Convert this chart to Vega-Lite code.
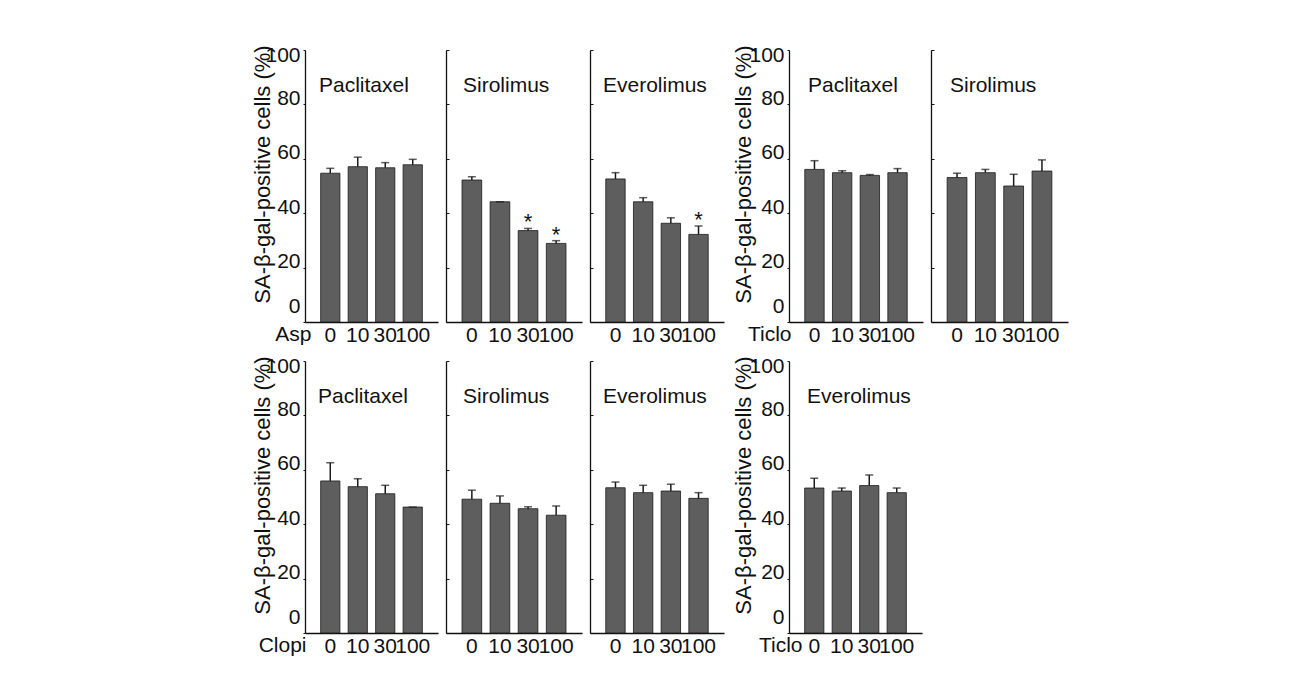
{
  "$schema": "https://vega.github.io/schema/vega-lite/v6.json",
  "padding": {"left": 250, "top": 44, "right": 5, "bottom": 5},
  "background": "white",
  "datasets": {
    "d": [
      {"panel": "Asp-Paclitaxel", "dose": "0", "value": 54.7, "err": 56.5, "sig": ""},
      {"panel": "Asp-Paclitaxel", "dose": "10", "value": 57.1, "err": 60.6, "sig": ""},
      {"panel": "Asp-Paclitaxel", "dose": "30", "value": 56.7, "err": 58.6, "sig": ""},
      {"panel": "Asp-Paclitaxel", "dose": "100", "value": 57.8, "err": 59.8, "sig": ""},
      {"panel": "Asp-Sirolimus", "dose": "0", "value": 52.2, "err": 53.4, "sig": ""},
      {"panel": "Asp-Sirolimus", "dose": "10", "value": 44.2, "err": 44.2, "sig": ""},
      {"panel": "Asp-Sirolimus", "dose": "30", "value": 33.6, "err": 34.4, "sig": "*"},
      {"panel": "Asp-Sirolimus", "dose": "100", "value": 28.9, "err": 29.9, "sig": "*"},
      {"panel": "Asp-Everolimus", "dose": "0", "value": 52.6, "err": 54.9, "sig": ""},
      {"panel": "Asp-Everolimus", "dose": "10", "value": 44.2, "err": 45.7, "sig": ""},
      {"panel": "Asp-Everolimus", "dose": "30", "value": 36.3, "err": 38.3, "sig": ""},
      {"panel": "Asp-Everolimus", "dose": "100", "value": 32.2, "err": 35.3, "sig": "*"},
      {"panel": "Ticlo-Paclitaxel", "dose": "0", "value": 56.1, "err": 59.3, "sig": ""},
      {"panel": "Ticlo-Paclitaxel", "dose": "10", "value": 54.9, "err": 55.6, "sig": ""},
      {"panel": "Ticlo-Paclitaxel", "dose": "30", "value": 53.9, "err": 54.2, "sig": ""},
      {"panel": "Ticlo-Paclitaxel", "dose": "100", "value": 54.9, "err": 56.4, "sig": ""},
      {"panel": "Ticlo-Sirolimus", "dose": "0", "value": 53.1, "err": 54.7, "sig": ""},
      {"panel": "Ticlo-Sirolimus", "dose": "10", "value": 54.9, "err": 56.1, "sig": ""},
      {"panel": "Ticlo-Sirolimus", "dose": "30", "value": 50.0, "err": 54.3, "sig": ""},
      {"panel": "Ticlo-Sirolimus", "dose": "100", "value": 55.5, "err": 59.6, "sig": ""},
      {"panel": "Clopi-Paclitaxel", "dose": "0", "value": 55.9, "err": 62.6, "sig": ""},
      {"panel": "Clopi-Paclitaxel", "dose": "10", "value": 53.8, "err": 56.7, "sig": ""},
      {"panel": "Clopi-Paclitaxel", "dose": "30", "value": 51.2, "err": 54.3, "sig": ""},
      {"panel": "Clopi-Paclitaxel", "dose": "100", "value": 46.3, "err": 46.3, "sig": ""},
      {"panel": "Clopi-Sirolimus", "dose": "0", "value": 49.2, "err": 52.5, "sig": ""},
      {"panel": "Clopi-Sirolimus", "dose": "10", "value": 47.7, "err": 50.4, "sig": ""},
      {"panel": "Clopi-Sirolimus", "dose": "30", "value": 45.7, "err": 46.4, "sig": ""},
      {"panel": "Clopi-Sirolimus", "dose": "100", "value": 43.3, "err": 46.7, "sig": ""},
      {"panel": "Clopi-Everolimus", "dose": "0", "value": 53.4, "err": 55.5, "sig": ""},
      {"panel": "Clopi-Everolimus", "dose": "10", "value": 51.6, "err": 54.3, "sig": ""},
      {"panel": "Clopi-Everolimus", "dose": "30", "value": 52.2, "err": 54.7, "sig": ""},
      {"panel": "Clopi-Everolimus", "dose": "100", "value": 49.5, "err": 51.6, "sig": ""},
      {"panel": "Ticlo-Everolimus", "dose": "0", "value": 53.3, "err": 56.9, "sig": ""},
      {"panel": "Ticlo-Everolimus", "dose": "10", "value": 52.2, "err": 53.3, "sig": ""},
      {"panel": "Ticlo-Everolimus", "dose": "30", "value": 54.2, "err": 58.1, "sig": ""},
      {"panel": "Ticlo-Everolimus", "dose": "100", "value": 51.6, "err": 53.3, "sig": ""}
    ]
  },
  "data": {"name": "d"},
  "config": {
    "view": {"stroke": null},
    "font": "Liberation Sans",
    "axis": {"labelFont": "Liberation Sans", "titleFont": "Liberation Sans", "labelFontSize": 21, "titleFontSize": 22, "titleFontWeight": "normal", "domainColor": "#111111", "tickColor": "#111111", "labelColor": "#111111", "titleColor": "#111111", "grid": false, "domainWidth": 1.3},
    "axisX": {"ticks": false, "labelAngle": 0, "labelPadding": 2, "labelOverlap": false, "labelFlush": false, "titleFontSize": 21},
    "axisY": {"tickCount": 6},
    "title": {"font": "Liberation Sans", "fontSize": 21, "fontWeight": "normal", "anchor": "start", "frame": "group", "baseline": "alphabetic", "color": "#111111"}
  },
  "spacing": 10,
  "vconcat": [
    {
      "spacing": 7,
      "hconcat": [
        {
          "width": 133, "height": 272,
          "title": {"text": "Paclitaxel", "offset": -52, "dx": 14},
          "transform": [{"filter": "datum.panel === 'Asp-Paclitaxel'"}],
          "encoding": {"x": {"field": "dose", "type": "nominal", "sort": ["0", "10", "30", "100"], "scale": {"paddingInner": 0.3, "paddingOuter": 0.57}, "axis": {"title": "Asp", "titleX": 6, "titleY": 18, "titleAlign": "right", "titleBaseline": "alphabetic"}}},
          "layer": [
            {"mark": {"type": "bar", "color": "#5e5e5e", "stroke": "#1a1a1a", "strokeWidth": 0.8}, "encoding": {"y": {"field": "value", "type": "quantitative", "scale": {"domain": [0, 100], "nice": false}, "axis": {"title": "SA-β-gal-positive cells (%)", "tickSize": 2, "labelPadding": 3, "labelOffset": -6, "labelFlush": true, "minExtent": 27, "maxExtent": 27, "titlePadding": 4, "titleY": 124}}}},
            {"mark": {"type": "rule", "color": "#1a1a1a", "strokeWidth": 1.5}, "encoding": {"y": {"field": "value", "type": "quantitative", "axis": {"title": "SA-β-gal-positive cells (%)", "tickSize": 2, "labelPadding": 3, "labelOffset": -6, "labelFlush": true, "minExtent": 27, "maxExtent": 27, "titlePadding": 4, "titleY": 124}}, "y2": {"field": "err"}}},
            {"mark": {"type": "tick", "color": "#1a1a1a", "thickness": 1.5, "size": 8}, "encoding": {"y": {"field": "err", "type": "quantitative", "axis": {"title": "SA-β-gal-positive cells (%)", "tickSize": 2, "labelPadding": 3, "labelOffset": -6, "labelFlush": true, "minExtent": 27, "maxExtent": 27, "titlePadding": 4, "titleY": 124}}}}
          ]
        },
        {
          "width": 136, "height": 272,
          "title": {"text": "Sirolimus", "offset": -46, "dx": 17},
          "transform": [{"filter": "datum.panel === 'Asp-Sirolimus'"}],
          "encoding": {"x": {"field": "dose", "type": "nominal", "sort": ["0", "10", "30", "100"], "scale": {"paddingInner": 0.3, "paddingOuter": 0.57}, "axis": {"title": null}}},
          "layer": [
            {"mark": {"type": "bar", "color": "#5e5e5e", "stroke": "#1a1a1a", "strokeWidth": 0.8}, "encoding": {"y": {"field": "value", "type": "quantitative", "scale": {"domain": [0, 100], "nice": false}, "axis": {"title": null, "labels": false, "tickSize": -3}}}},
            {"mark": {"type": "rule", "color": "#1a1a1a", "strokeWidth": 1.5}, "encoding": {"y": {"field": "value", "type": "quantitative", "axis": {"title": null, "labels": false, "tickSize": -3}}, "y2": {"field": "err"}}},
            {"mark": {"type": "tick", "color": "#1a1a1a", "thickness": 1.5, "size": 8}, "encoding": {"y": {"field": "err", "type": "quantitative", "axis": {"title": null, "labels": false, "tickSize": -3}}}},
            {"mark": {"type": "text", "fontSize": 22, "baseline": "alphabetic", "dy": 1, "color": "#111111"}, "encoding": {"y": {"field": "err", "type": "quantitative", "axis": {"title": null, "labels": false, "tickSize": -3}}, "text": {"field": "sig"}}}
          ]
        },
        {
          "width": 134, "height": 272,
          "title": {"text": "Everolimus", "offset": -46, "dx": 13},
          "transform": [{"filter": "datum.panel === 'Asp-Everolimus'"}],
          "encoding": {"x": {"field": "dose", "type": "nominal", "sort": ["0", "10", "30", "100"], "scale": {"paddingInner": 0.3, "paddingOuter": 0.57}, "axis": {"title": null}}},
          "layer": [
            {"mark": {"type": "bar", "color": "#5e5e5e", "stroke": "#1a1a1a", "strokeWidth": 0.8}, "encoding": {"y": {"field": "value", "type": "quantitative", "scale": {"domain": [0, 100], "nice": false}, "axis": {"title": null, "labels": false, "tickSize": -3}}}},
            {"mark": {"type": "rule", "color": "#1a1a1a", "strokeWidth": 1.5}, "encoding": {"y": {"field": "value", "type": "quantitative", "axis": {"title": null, "labels": false, "tickSize": -3}}, "y2": {"field": "err"}}},
            {"mark": {"type": "tick", "color": "#1a1a1a", "thickness": 1.5, "size": 8}, "encoding": {"y": {"field": "err", "type": "quantitative", "axis": {"title": null, "labels": false, "tickSize": -3}}}},
            {"mark": {"type": "text", "fontSize": 22, "baseline": "alphabetic", "dy": 1, "color": "#111111"}, "encoding": {"y": {"field": "err", "type": "quantitative", "axis": {"title": null, "labels": false, "tickSize": -3}}, "text": {"field": "sig"}}}
          ]
        },
        {
          "width": 134, "height": 272,
          "title": {"text": "Paclitaxel", "offset": -52, "dx": 19},
          "transform": [{"filter": "datum.panel === 'Ticlo-Paclitaxel'"}],
          "encoding": {"x": {"field": "dose", "type": "nominal", "sort": ["0", "10", "30", "100"], "scale": {"paddingInner": 0.3, "paddingOuter": 0.57}, "axis": {"title": "Ticlo", "titleX": 2, "titleY": 18, "titleAlign": "right", "titleBaseline": "alphabetic"}}},
          "layer": [
            {"mark": {"type": "bar", "color": "#5e5e5e", "stroke": "#1a1a1a", "strokeWidth": 0.8}, "encoding": {"y": {"field": "value", "type": "quantitative", "scale": {"domain": [0, 100], "nice": false}, "axis": {"title": "SA-β-gal-positive cells (%)", "tickSize": 2, "labelPadding": 3, "labelOffset": -6, "labelFlush": true, "minExtent": 27, "maxExtent": 27, "titlePadding": 7, "titleY": 124}}}},
            {"mark": {"type": "rule", "color": "#1a1a1a", "strokeWidth": 1.5}, "encoding": {"y": {"field": "value", "type": "quantitative", "axis": {"title": "SA-β-gal-positive cells (%)", "tickSize": 2, "labelPadding": 3, "labelOffset": -6, "labelFlush": true, "minExtent": 27, "maxExtent": 27, "titlePadding": 7, "titleY": 124}}, "y2": {"field": "err"}}},
            {"mark": {"type": "tick", "color": "#1a1a1a", "thickness": 1.5, "size": 8}, "encoding": {"y": {"field": "err", "type": "quantitative", "axis": {"title": "SA-β-gal-positive cells (%)", "tickSize": 2, "labelPadding": 3, "labelOffset": -6, "labelFlush": true, "minExtent": 27, "maxExtent": 27, "titlePadding": 7, "titleY": 124}}}}
          ]
        },
        {
          "width": 137, "height": 272,
          "title": {"text": "Sirolimus", "offset": -46, "dx": 19},
          "transform": [{"filter": "datum.panel === 'Ticlo-Sirolimus'"}],
          "encoding": {"x": {"field": "dose", "type": "nominal", "sort": ["0", "10", "30", "100"], "scale": {"paddingInner": 0.3, "paddingOuter": 0.57}, "axis": {"title": null}}},
          "layer": [
            {"mark": {"type": "bar", "color": "#5e5e5e", "stroke": "#1a1a1a", "strokeWidth": 0.8}, "encoding": {"y": {"field": "value", "type": "quantitative", "scale": {"domain": [0, 100], "nice": false}, "axis": {"title": null, "labels": false, "tickSize": -3}}}},
            {"mark": {"type": "rule", "color": "#1a1a1a", "strokeWidth": 1.5}, "encoding": {"y": {"field": "value", "type": "quantitative", "axis": {"title": null, "labels": false, "tickSize": -3}}, "y2": {"field": "err"}}},
            {"mark": {"type": "tick", "color": "#1a1a1a", "thickness": 1.5, "size": 8}, "encoding": {"y": {"field": "err", "type": "quantitative", "axis": {"title": null, "labels": false, "tickSize": -3}}}}
          ]
        }
      ]
    },
    {
      "spacing": 7,
      "hconcat": [
        {
          "width": 133, "height": 272,
          "title": {"text": "Paclitaxel", "offset": -52, "dx": 13},
          "transform": [{"filter": "datum.panel === 'Clopi-Paclitaxel'"}],
          "encoding": {"x": {"field": "dose", "type": "nominal", "sort": ["0", "10", "30", "100"], "scale": {"paddingInner": 0.3, "paddingOuter": 0.57}, "axis": {"title": "Clopi", "titleX": 1, "titleY": 18, "titleAlign": "right", "titleBaseline": "alphabetic"}}},
          "layer": [
            {"mark": {"type": "bar", "color": "#5e5e5e", "stroke": "#1a1a1a", "strokeWidth": 0.8}, "encoding": {"y": {"field": "value", "type": "quantitative", "scale": {"domain": [0, 100], "nice": false}, "axis": {"title": "SA-β-gal-positive cells (%)", "tickSize": 2, "labelPadding": 3, "labelOffset": -6, "labelFlush": true, "minExtent": 27, "maxExtent": 27, "titlePadding": 4, "titleY": 124}}}},
            {"mark": {"type": "rule", "color": "#1a1a1a", "strokeWidth": 1.5}, "encoding": {"y": {"field": "value", "type": "quantitative", "axis": {"title": "SA-β-gal-positive cells (%)", "tickSize": 2, "labelPadding": 3, "labelOffset": -6, "labelFlush": true, "minExtent": 27, "maxExtent": 27, "titlePadding": 4, "titleY": 124}}, "y2": {"field": "err"}}},
            {"mark": {"type": "tick", "color": "#1a1a1a", "thickness": 1.5, "size": 8}, "encoding": {"y": {"field": "err", "type": "quantitative", "axis": {"title": "SA-β-gal-positive cells (%)", "tickSize": 2, "labelPadding": 3, "labelOffset": -6, "labelFlush": true, "minExtent": 27, "maxExtent": 27, "titlePadding": 4, "titleY": 124}}}}
          ]
        },
        {
          "width": 136, "height": 272,
          "title": {"text": "Sirolimus", "offset": -46, "dx": 17},
          "transform": [{"filter": "datum.panel === 'Clopi-Sirolimus'"}],
          "encoding": {"x": {"field": "dose", "type": "nominal", "sort": ["0", "10", "30", "100"], "scale": {"paddingInner": 0.3, "paddingOuter": 0.57}, "axis": {"title": null}}},
          "layer": [
            {"mark": {"type": "bar", "color": "#5e5e5e", "stroke": "#1a1a1a", "strokeWidth": 0.8}, "encoding": {"y": {"field": "value", "type": "quantitative", "scale": {"domain": [0, 100], "nice": false}, "axis": {"title": null, "labels": false, "tickSize": -3}}}},
            {"mark": {"type": "rule", "color": "#1a1a1a", "strokeWidth": 1.5}, "encoding": {"y": {"field": "value", "type": "quantitative", "axis": {"title": null, "labels": false, "tickSize": -3}}, "y2": {"field": "err"}}},
            {"mark": {"type": "tick", "color": "#1a1a1a", "thickness": 1.5, "size": 8}, "encoding": {"y": {"field": "err", "type": "quantitative", "axis": {"title": null, "labels": false, "tickSize": -3}}}}
          ]
        },
        {
          "width": 134, "height": 272,
          "title": {"text": "Everolimus", "offset": -46, "dx": 13},
          "transform": [{"filter": "datum.panel === 'Clopi-Everolimus'"}],
          "encoding": {"x": {"field": "dose", "type": "nominal", "sort": ["0", "10", "30", "100"], "scale": {"paddingInner": 0.3, "paddingOuter": 0.57}, "axis": {"title": null}}},
          "layer": [
            {"mark": {"type": "bar", "color": "#5e5e5e", "stroke": "#1a1a1a", "strokeWidth": 0.8}, "encoding": {"y": {"field": "value", "type": "quantitative", "scale": {"domain": [0, 100], "nice": false}, "axis": {"title": null, "labels": false, "tickSize": -3}}}},
            {"mark": {"type": "rule", "color": "#1a1a1a", "strokeWidth": 1.5}, "encoding": {"y": {"field": "value", "type": "quantitative", "axis": {"title": null, "labels": false, "tickSize": -3}}, "y2": {"field": "err"}}},
            {"mark": {"type": "tick", "color": "#1a1a1a", "thickness": 1.5, "size": 8}, "encoding": {"y": {"field": "err", "type": "quantitative", "axis": {"title": null, "labels": false, "tickSize": -3}}}}
          ]
        },
        {
          "width": 133, "height": 272,
          "title": {"text": "Everolimus", "offset": -52, "dx": 18},
          "transform": [{"filter": "datum.panel === 'Ticlo-Everolimus'"}],
          "encoding": {"x": {"field": "dose", "type": "nominal", "sort": ["0", "10", "30", "100"], "scale": {"paddingInner": 0.3, "paddingOuter": 0.57}, "axis": {"title": "Ticlo", "titleX": 13, "titleY": 18, "titleAlign": "right", "titleBaseline": "alphabetic"}}},
          "layer": [
            {"mark": {"type": "bar", "color": "#5e5e5e", "stroke": "#1a1a1a", "strokeWidth": 0.8}, "encoding": {"y": {"field": "value", "type": "quantitative", "scale": {"domain": [0, 100], "nice": false}, "axis": {"title": "SA-β-gal-positive cells (%)", "tickSize": 2, "labelPadding": 3, "labelOffset": -6, "labelFlush": true, "minExtent": 27, "maxExtent": 27, "titlePadding": 7, "titleY": 124}}}},
            {"mark": {"type": "rule", "color": "#1a1a1a", "strokeWidth": 1.5}, "encoding": {"y": {"field": "value", "type": "quantitative", "axis": {"title": "SA-β-gal-positive cells (%)", "tickSize": 2, "labelPadding": 3, "labelOffset": -6, "labelFlush": true, "minExtent": 27, "maxExtent": 27, "titlePadding": 7, "titleY": 124}}, "y2": {"field": "err"}}},
            {"mark": {"type": "tick", "color": "#1a1a1a", "thickness": 1.5, "size": 8}, "encoding": {"y": {"field": "err", "type": "quantitative", "axis": {"title": "SA-β-gal-positive cells (%)", "tickSize": 2, "labelPadding": 3, "labelOffset": -6, "labelFlush": true, "minExtent": 27, "maxExtent": 27, "titlePadding": 7, "titleY": 124}}}}
          ]
        }
      ]
    }
  ]
}
